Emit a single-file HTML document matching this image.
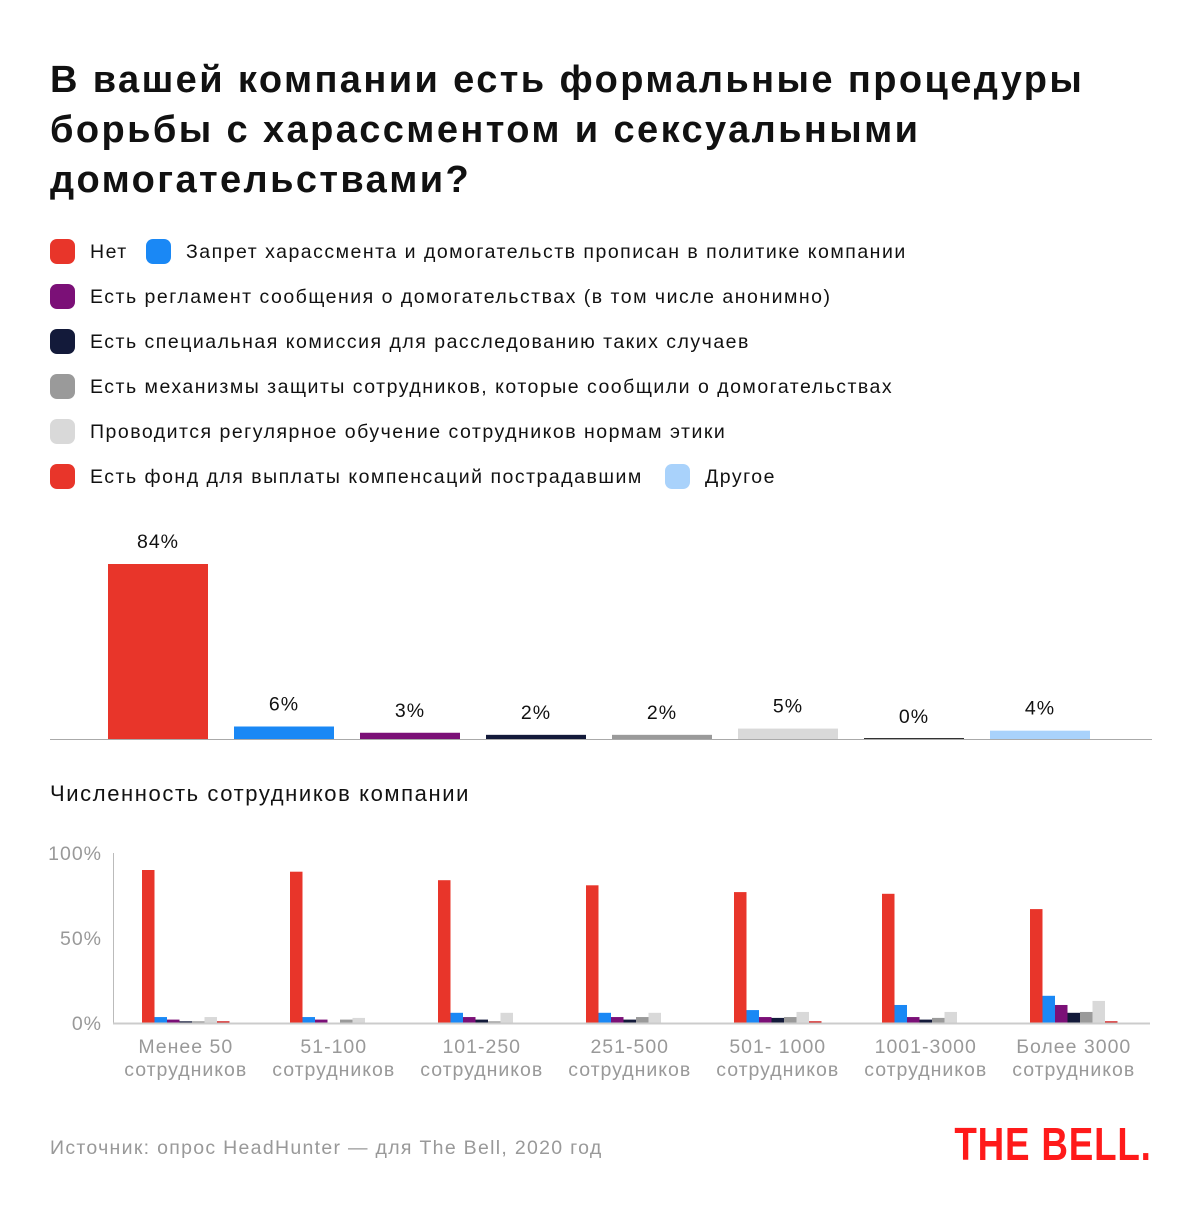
<!DOCTYPE html>
<html><head><meta charset="utf-8">
<style>
body{margin:0;background:#fff;font-family:"Liberation Sans",sans-serif;}
#root{position:relative;width:1200px;height:1222px;overflow:hidden;background:#fff;}
h1{position:absolute;left:50px;top:55px;margin:0;font-size:38px;line-height:50px;font-weight:bold;color:#111;width:1140px;letter-spacing:2.4px;white-space:nowrap}
.lg{position:absolute;font-size:19.5px;color:#111;line-height:24px;letter-spacing:1.5px}
.sw{position:absolute;width:25px;height:25px;border-radius:7px}
.t{position:absolute;white-space:nowrap}
</style></head><body>
<div id="root">
<h1>В вашей компании есть формальные процедуры<br>борьбы с харассментом и сексуальными<br>домогательствами?</h1>
<div id="legend"></div>
<svg id="top" width="1200" height="1222" style="position:absolute;left:0;top:0"></svg>
<div class="t" style="left:50px;top:781px;font-size:22px;color:#111;letter-spacing:1.6px">Численность сотрудников компании</div>
<div class="t" style="left:50px;top:1137px;font-size:19.5px;color:#999;letter-spacing:1.3px">Источник: опрос HeadHunter — для The Bell, 2020 год</div>
<div class="t" style="right:48px;top:1117px;font-size:46px;font-weight:bold;color:#ff1a1a;letter-spacing:1px;transform:scaleX(0.8);transform-origin:right center">THE BELL.</div>
</div>
<script>
const seriesNames=["Нет","Запрет харассмента и домогательств прописан в политике компании","Есть регламент сообщения о домогательствах (в том числе анонимно)","Есть специальная комиссия для расследованию таких случаев","Есть механизмы защиты сотрудников, которые сообщили о домогательствах","Проводится регулярное обучение сотрудников нормам этики","Есть фонд для выплаты компенсаций пострадавшим","Другое"];
const colors=["#e8352a","#1a88f5","#7b1077","#131a3a","#9a9a9a","#d9d9d9","#e8352a","#a9d2fb"];
const overall=[84,6,3,2,2,5,0,4];
const groups=["Менее 50|сотрудников","51-100|сотрудников","101-250|сотрудников","251-500|сотрудников","501- 1000|сотрудников","1001-3000|сотрудников","Более 3000|сотрудников"];
const s0=[90,89,84,81,77,76,67];
const s1=[3.5,3.5,6,6,7.6,10.6,16];
const s2=[2,2,3.5,3.5,3.5,3.5,10.6];
const s3=[1,0,2,2,3,2,6];
const s4=[1,2,1,3.5,3.5,3,6.5];
const s5=[3.5,3,6,6,6.5,6.5,13];
const s6=[1,0,0,0,1,0,1];
const yTicks=[0,50,100];
const yLabels=["0%","50%","100%"];

const NS="http://www.w3.org/2000/svg";
const root=document.getElementById('root');
const rows=[[0,1],[2],[3],[4],[5],[6,7]];
const secondX={1:146,7:665};
rows.forEach((r,ri)=>{r.forEach((si,k)=>{
 const x=k===0?50:secondX[si]; const y=239+ri*45;
 const sw=document.createElement('div');sw.className='sw';sw.style.left=x+'px';sw.style.top=y+'px';sw.style.background=colors[si];
 
 
 root.appendChild(sw);
 const t=document.createElement('div');t.className='lg t';t.style.left=(x+40)+'px';t.style.top=(y+1)+'px';t.textContent=seriesNames[si];
 
 
 root.appendChild(t);
});});
const svg=document.getElementById('top');
function el(tag,attrs){const e=document.createElementNS(NS,tag);for(const k in attrs)e.setAttribute(k,attrs[k]);svg.appendChild(e);return e;}
const base1=739, k1=175/84;
const y1=v=>base1-v*k1;
overall.forEach((v,i)=>{
 const x=108+i*126;
 const h=Math.max(base1-y1(v),1);
 const r=el('rect',{x:x,y:base1-h,width:100,height:h,fill:v===0?'#333':colors[i]});
 
 
 const t=el('text',{x:x+50,y:y1(v)-16,'text-anchor':'middle','font-size':19.5,fill:'#111','font-family':'Liberation Sans','letter-spacing':1});
 t.textContent=v+'%';
 
 
});
const ax=el('line',{x1:50,x2:1152,y1:base1+0.5,y2:base1+0.5,stroke:'#aaa','stroke-width':1});


const base2=1023, k2=170/100;
const y2=v=>base2-v*k2;
const series=[s0,s1,s2,s3,s4,s5,s6];
const bw=12.5;
groups.forEach((g,gi)=>{
 const gx=142+gi*148;
 series.forEach((s,si)=>{
  const v=s[gi]; if(v<=0)return;
  const r=el('rect',{x:gx+si*bw,y:y2(v),width:bw,height:base2-y2(v),fill:si===6?'#d01010':colors[si]});
  
  
 });
 const parts=g.split('|');
 parts.forEach((p,pi)=>{
  const t=el('text',{x:gx+bw*3.5,y:1053+pi*23,'text-anchor':'middle','font-size':19.5,fill:'#999','font-family':'Liberation Sans','letter-spacing':1});
  t.textContent=p;
  
  
 });
});
yTicks.forEach((v,i)=>{
 const t=el('text',{x:102,y:y2(v)+7,'text-anchor':'end','font-size':19.5,fill:'#999','font-family':'Liberation Sans','letter-spacing':1});
 t.textContent=yLabels[i];
 
 
});
const ya=el('line',{x1:113.5,x2:113.5,y1:y2(100),y2:base2,stroke:'#bbb','stroke-width':1});


const xa=el('line',{x1:113,x2:1150,y1:base2+0.5,y2:base2+0.5,stroke:'#ccc','stroke-width':2});


</script>
</body></html>
